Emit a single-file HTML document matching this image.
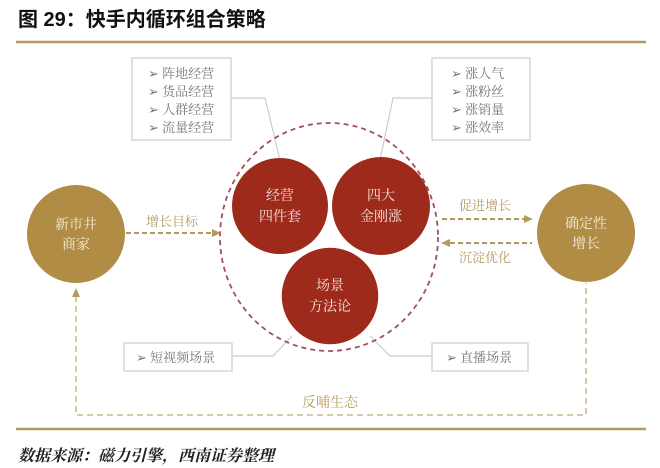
<!DOCTYPE html>
<html><head><meta charset="utf-8"><style>
html,body{margin:0;padding:0;background:#fff;width:660px;height:468px;overflow:hidden}
svg{display:block}
</style></head><body>
<svg width="660" height="468" viewBox="0 0 660 468" xmlns="http://www.w3.org/2000/svg" font-family="'Liberation Serif','Noto Serif CJK SC',serif">
<text x="18" y="26" font-family="'Liberation Sans','Noto Sans CJK SC',sans-serif" font-weight="bold" font-size="20" fill="#111">图 29：快手内循环组合策略</text>
<line x1="16" y1="42" x2="646" y2="42" stroke="#b59a5f" stroke-width="2.5"/>
<line x1="16" y1="429" x2="646" y2="429" stroke="#b59a5f" stroke-width="2.5"/>
<text x="18" y="461" font-size="16" font-style="italic" font-weight="bold" fill="#222">数据来源：磁力引擎，西南证券整理</text>

<!-- top boxes -->
<rect x="132" y="58" width="99" height="82" fill="#fff" stroke="#ccc" stroke-width="1.2"/>
<g font-size="13" fill="#777"><text x="148" y="78">➢ 阵地经营</text><text x="148" y="96">➢ 货品经营</text><text x="148" y="114">➢ 人群经营</text><text x="148" y="132">➢ 流量经营</text></g>
<rect x="432" y="58" width="98" height="82" fill="#fff" stroke="#ccc" stroke-width="1.2"/>
<g font-size="13" fill="#777"><text x="451" y="78">➢ 涨人气</text><text x="451" y="96">➢ 涨粉丝</text><text x="451" y="114">➢ 涨销量</text><text x="451" y="132">➢ 涨效率</text></g>
<polyline points="231,98 265,98 280,160" fill="none" stroke="#ccc" stroke-width="1.2"/>
<polyline points="432,98 393,98 380,160" fill="none" stroke="#ccc" stroke-width="1.2"/>

<!-- bottom boxes -->
<rect x="124" y="343" width="108" height="28" fill="#fff" stroke="#ccc" stroke-width="1.2"/>
<text x="136" y="362" font-size="13" fill="#777">➢ 短视频场景</text>
<rect x="432" y="343" width="96" height="28" fill="#fff" stroke="#ccc" stroke-width="1.2"/>
<text x="446" y="362" font-size="13" fill="#777">➢ 直播场景</text>
<polyline points="232,356 273,356 292,336" fill="none" stroke="#ccc" stroke-width="1.2"/>
<polyline points="432,356 390,356 370,336" fill="none" stroke="#ccc" stroke-width="1.2"/>

<!-- feedback loop -->
<polyline points="76,296 76,415 586,415 586,283" fill="none" stroke="#c9b98e" stroke-width="1.5" stroke-dasharray="6,4"/>
<polygon points="76,288 72,297 80,297" fill="#b59a5f"/>
<text x="330" y="407" font-size="14" fill="#b59a5f" text-anchor="middle">反哺生态</text>

<!-- red circles -->
<circle cx="280" cy="206" r="48" fill="#9e2a1c"/>
<circle cx="381" cy="206" r="49" fill="#9e2a1c"/>
<circle cx="330" cy="296" r="49" fill="#9e2a1c" stroke="#fff" stroke-width="1.5"/>
<ellipse cx="329" cy="237" rx="109" ry="114" fill="none" stroke="#9e5060" stroke-width="1.8" stroke-dasharray="5,4"/>
<g font-size="14" fill="#f3e3dc" text-anchor="middle">
<text x="280" y="200">经营</text><text x="280" y="221">四件套</text>
<text x="381" y="200">四大</text><text x="381" y="221">金刚涨</text>
<text x="330" y="290">场景</text><text x="330" y="311">方法论</text>
</g>

<!-- gold circles -->
<circle cx="76" cy="234" r="49" fill="#b08c45"/>
<circle cx="586" cy="233" r="49" fill="#b08c45"/>
<g font-size="14" fill="#f5ecd8" text-anchor="middle">
<text x="76" y="229">新市井</text><text x="76" y="249">商家</text>
<text x="586" y="228">确定性</text><text x="586" y="248">增长</text>
</g>

<!-- arrows -->
<g stroke="#b59a5f" stroke-width="2" stroke-dasharray="5,3" fill="none">
<line x1="126" y1="233" x2="213" y2="233"/>
<line x1="442" y1="219" x2="525" y2="219"/>
<line x1="450" y1="243" x2="532" y2="243"/>
</g>
<g fill="#b59a5f">
<polygon points="221,233 212,229 212,237"/>
<polygon points="533,219 524,215 524,223"/>
<polygon points="441,243 450,239 450,247"/>
</g>
<g font-size="13" fill="#b59a5f" text-anchor="middle">
<text x="172" y="226">增长目标</text>
<text x="485" y="210">促进增长</text>
<text x="485" y="262">沉淀优化</text>
</g>
</svg>
</body></html>
